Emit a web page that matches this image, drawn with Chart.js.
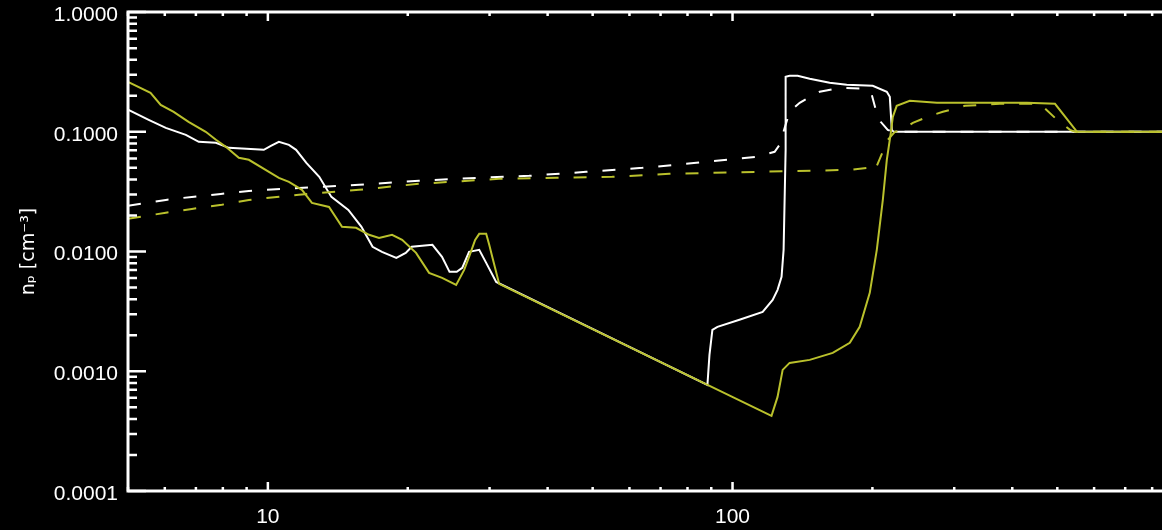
<!DOCTYPE html>
<html>
<head>
<meta charset="utf-8">
<script src="https://cdn.jsdelivr.net/npm/chart.js@4"></script>
<style>
  html, body { margin: 0; padding: 0; background: #000; overflow: hidden; }
  #wrap { width: 1162px; height: 530px; position: relative; }
</style>
</head>
<body>
<div id="wrap"><canvas id="myChart"></canvas></div>
<script>
"use strict";

// radius-like coordinate (x) and proton density n_p (y)
var whiteSolidX = [5.0, 5.54, 6.03, 6.66, 7.10, 7.73, 8.24, 9.80, 10.15, 10.56, 11.1, 11.5, 12.1, 12.9, 13.7, 14.9,
    15.9, 16.8, 17.6, 18.9, 19.8, 20.4, 22.6, 23.7, 24.6, 25.5, 26.2, 27.1, 28.5, 29.5, 31.0, 88.3, 89.2, 90.5,
    92.8, 103.5, 116.1, 122.0, 125.0, 127.5, 128.8, 130.1, 130.1, 132.7, 138.1, 146.6, 161.8, 176.1, 200.3,
    214.8, 218.0, 220.2, 222.3, 840];
var whiteSolidY = [0.153, 0.126, 0.108, 0.0944, 0.0825, 0.0809, 0.0735, 0.0707, 0.0764, 0.0825, 0.0779, 0.0707,
    0.0551, 0.0421, 0.0286, 0.0223, 0.0161, 0.01095, 0.00994, 0.00886, 0.00975, 0.01095, 0.01138, 0.00903,
    0.00677, 0.00677, 0.0073, 0.00994, 0.01033, 0.00804, 0.00558, 0.00077, 0.00137, 0.00222, 0.00235, 0.00269,
    0.00313, 0.00395, 0.00479, 0.00614, 0.01033, 0.0707, 0.288, 0.2935, 0.2935, 0.2773, 0.2566, 0.247, 0.2422,
    0.2159, 0.196, 0.1039, 0.1, 0.1];

var yellowSolidX = [5.0, 5.59, 5.88, 6.27, 6.75, 7.35, 7.73, 8.12, 8.66, 9.10, 10.56, 11.1, 11.84, 12.44, 13.54,
    14.44, 15.48, 16.51, 17.35, 18.50, 19.45, 20.84, 22.23, 23.71, 25.42, 26.45, 27.1, 27.93, 28.5, 29.5, 29.95,
    30.4, 31.46, 121.3, 125.0, 128.2, 132.7, 146.6, 164.3, 178.8, 187.8, 197.4, 204.4, 210.6, 214.8, 219.1,
    221.3, 225.6, 240.7, 275.3, 430.1, 494.3, 551.3, 840];
var yellowSolidY = [0.2616, 0.2117, 0.168, 0.1469, 0.1212, 0.1, 0.0858, 0.0749, 0.0607, 0.0584, 0.0413, 0.0382,
    0.0328, 0.0255, 0.0236, 0.0161, 0.0158, 0.0138, 0.0130, 0.0138, 0.01252, 0.00975, 0.00664, 0.00603, 0.00527,
    0.00703, 0.00903, 0.01252, 0.01406, 0.01406, 0.01138, 0.00903, 0.00537, 0.000424, 0.000611, 0.001027,
    0.001175, 0.001245, 0.001425, 0.001727, 0.00235, 0.00452, 0.01033, 0.0270, 0.0584, 0.0981, 0.1334, 0.1649,
    0.1815, 0.1747, 0.1747, 0.1714, 0.1, 0.1];

var whiteDashX = [5.0, 6.03, 6.86, 7.92, 9.10, 11.66, 15.71, 21.15, 28.5, 36.5, 48.4, 64.0, 83.6, 112.6, 123.2,
    126.3, 129.5, 132.7, 139.5, 146.6, 154.0, 170.1, 192.6, 199.4, 203.4, 208.4, 215.8, 221.3, 840];
var whiteDashY = [0.0241, 0.0270, 0.0286, 0.0303, 0.0321, 0.0340, 0.0361, 0.0390, 0.0413, 0.0429, 0.0463, 0.0500,
    0.0551, 0.0618, 0.0681, 0.0779, 0.108, 0.1469, 0.1747, 0.196, 0.2159, 0.2331, 0.2287, 0.2037, 0.1527, 0.1212,
    0.1039, 0.1, 0.1];

var yellowDashX = [5.0, 6.03, 6.86, 7.96, 9.10, 11.66, 15.71, 21.15, 31.46, 41.7, 55.1, 73.1, 112.6, 178.8, 195.4,
    202.3, 215.8, 223.5, 232.5, 244.4, 265.9, 283.6, 316.2, 376.2, 458.7, 499.4, 532.6, 545.9, 840];
var yellowDashY = [0.01875, 0.0211, 0.0227, 0.0246, 0.0270, 0.0298, 0.0328, 0.0368, 0.0405, 0.0413, 0.0421,
    0.0446, 0.0463, 0.0481, 0.0500, 0.0472, 0.0858, 0.1, 0.1039, 0.1189, 0.136, 0.1469, 0.1649, 0.1714, 0.1714,
    0.126, 0.1039, 0.1, 0.1];

var xTickValues = [10, 100];
var xTickLabels = ['10', '100'];
var yTickValues = [1, 0.1, 0.01, 0.001, 0.0001];
var yTickLabels = ['1.0000', '0.1000', '0.0100', '0.0010', '0.0001'];

var YELLOW = '#bac12c';

function pts(xs, ys) {
    return xs.map(function (x, i) { return {x: x, y: ys[i]}; });
}

function labelFor(value, values, labels) {
    for (var i = 0; i < values.length; i++) {
        if (Math.abs(Math.log10(value) - Math.log10(values[i])) < 1e-6) return labels[i];
    }
    return '';
}

// IDL style frame with ticks pointing inwards
var axisFrame = {
    id: 'axisFrame',
    afterDraw: function (chart) {
        var ctx = chart.ctx, a = chart.chartArea;
        var xs = chart.scales.x, ys = chart.scales.y;
        ctx.save();
        ctx.strokeStyle = '#fff';
        ctx.lineWidth = 3;
        ctx.beginPath();
        ctx.moveTo(a.right + 2, a.top);
        ctx.lineTo(a.left, a.top);
        ctx.lineTo(a.left, a.bottom);
        ctx.lineTo(a.right + 2, a.bottom);
        ctx.stroke();

        ctx.lineWidth = 2.5;
        ctx.beginPath();
        var e, m, v, p, len;
        for (e = 0; e <= 3; e++) {
            for (m = 1; m <= 9; m++) {
                v = m * Math.pow(10, e);
                if (v < xs.min || v > xs.max) continue;
                p = xs.getPixelForValue(v);
                len = m === 1 ? 9 : 4;
                ctx.moveTo(p, a.bottom);
                ctx.lineTo(p, a.bottom - len);
                ctx.moveTo(p, a.top);
                ctx.lineTo(p, a.top + len);
            }
        }
        for (e = -4; e <= 0; e++) {
            for (m = 1; m <= 9; m++) {
                v = m * Math.pow(10, e);
                if (v < ys.min * 0.999 || v > ys.max * 1.001) continue;
                p = ys.getPixelForValue(v);
                len = m === 1 ? 18 : 9;
                ctx.moveTo(a.left, p);
                ctx.lineTo(a.left + len, p);
            }
        }
        ctx.stroke();
        ctx.restore();
    }
};

var ctx = document.getElementById('myChart').getContext('2d');
var chart = new Chart(ctx, {
    type: 'line',
    data: {
        datasets: [{
            data: pts(yellowSolidX, yellowSolidY),
            borderColor: YELLOW,
            borderWidth: 2
        }, {
            data: pts(yellowDashX, yellowDashY),
            borderColor: YELLOW,
            borderWidth: 2,
            borderDash: [13, 15]
        }, {
            data: pts(whiteSolidX, whiteSolidY),
            borderColor: '#ffffff',
            borderWidth: 2
        }, {
            data: pts(whiteDashX, whiteDashY),
            borderColor: '#ffffff',
            borderWidth: 2,
            borderDash: [13, 15]
        }]
    },
    options: {
        responsive: true,
        maintainAspectRatio: false,
        animation: false,
        elements: {
            point: { radius: 0 },
            line: { tension: 0, fill: false }
        },
        layout: { padding: { top: 12, right: 0, bottom: 0, left: 0 } },
        plugins: {
            legend: { display: false },
            tooltip: { enabled: false }
        },
        scales: {
            x: {
                type: 'logarithmic',
                min: 5,
                max: 840,
                grid: { display: false, drawTicks: false },
                border: { display: false },
                afterFit: function (scale) { scale.height = 39; },
                ticks: {
                    autoSkip: false,
                    maxRotation: 0,
                    padding: 0,
                    color: '#fff',
                    font: { family: 'Liberation Sans', size: 21, lineHeight: 2.5 },
                    callback: function (value) { return labelFor(value, xTickValues, xTickLabels); }
                }
            },
            y: {
                type: 'logarithmic',
                min: 0.0001,
                max: 1,
                grid: { display: false, drawTicks: false },
                border: { display: false },
                afterFit: function (scale) { scale.width = 128; },
                title: {
                    display: true,
                    text: 'nₚ [cm⁻³]',
                    color: '#fff',
                    padding: { top: 18, bottom: 0 },
                    font: { family: 'DejaVu Sans', size: 19, lineHeight: 1.2 }
                },
                ticks: {
                    autoSkip: false,
                    padding: 10,
                    labelOffset: 3,
                    color: '#fff',
                    font: { family: 'Liberation Sans', size: 21, lineHeight: 0.2 },
                    callback: function (value) { return labelFor(value, yTickValues, yTickLabels); }
                }
            }
        }
    },
    plugins: [axisFrame]
});
</script>
</body>
</html>
